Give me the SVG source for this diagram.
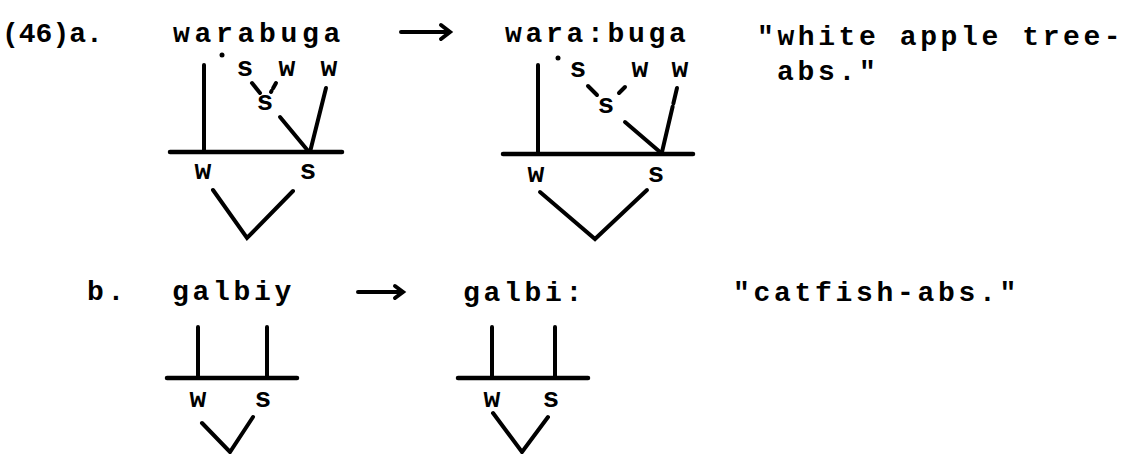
<svg xmlns="http://www.w3.org/2000/svg" width="1127" height="454" viewBox="0 0 1127 454">
<style>
.t{font-family:"Liberation Mono","DejaVu Sans Mono",monospace;font-size:28px;font-weight:bold;fill:#000;letter-spacing:3.7px}
.n{font-family:"Liberation Mono","DejaVu Sans Mono",monospace;font-size:28px;font-weight:bold;fill:#000;text-anchor:middle}
.l{stroke:#000;stroke-width:4;stroke-linecap:round;fill:none}
.h{stroke:#000;stroke-width:4.5;stroke-linecap:round;fill:none}
</style>
<rect width="1127" height="454" fill="#fff"/>
<g id="labels">
<text class="t" x="2" y="42" style="letter-spacing:0px">(46)a.</text>
<text class="t" x="173" y="42" style="letter-spacing:4.7px">warabuga</text>
<text class="t" x="505" y="42">wara:buga</text>
<text class="t" x="757" y="45" style="letter-spacing:3.6px">"white apple tree-</text>
<text class="t" x="777" y="80">abs."</text>
<text class="t" x="87" y="300">b.</text>
<text class="t" x="172" y="300">galbiy</text>
<text class="t" x="463" y="301">galbi:</text>
<text class="t" x="733" y="301">"catfish-abs."</text>
</g>
<g id="tree-a-left">
<circle cx="222" cy="55" r="2.5" fill="#000"/>
<text class="n" x="245" y="76">s</text>
<text class="n" x="287" y="76">w</text>
<text class="n" x="329" y="76">w</text>
<text class="n" x="265" y="110">s</text>
<text class="n" x="203" y="179">w</text>
<text class="n" x="308" y="179">s</text>
</g>
<g id="tree-a-right">
<circle cx="558" cy="58" r="2.5" fill="#000"/>
<text class="n" x="578" y="77">s</text>
<text class="n" x="640" y="77">w</text>
<text class="n" x="680" y="77">w</text>
<text class="n" x="606" y="113">s</text>
<text class="n" x="536" y="182">w</text>
<text class="n" x="656" y="182">s</text>
</g>
<g id="tree-b-left">
<text class="n" x="198" y="407">w</text>
<text class="n" x="263" y="407">s</text>
</g>
<g id="tree-b-right">
<text class="n" x="492" y="407">w</text>
<text class="n" x="551" y="407">s</text>
</g>
<g id="connectors">
<path class="l" d="M401 32 H449 M441 25 L450 32 L441 39"/>
<path class="l" d="M358 292 H402 M395 286 L403 292 L395 298"/>
<path class="l" d="M204 65 V152"/>
<path class="h" d="M170 152 H342"/>
<path class="l" d="M252 83 L260 93"/>
<path class="l" d="M276 83 L271 92" stroke-dasharray="6 3"/>
<path class="l" d="M280 117 L309 152"/>
<path class="l" d="M326 88 L310 152"/>
<path class="l" d="M213 190 L247 238 L293 191"/>
<path class="l" d="M538 65 V154"/>
<path class="h" d="M503 154 H693"/>
<path class="l" d="M588 86 L597 95"/>
<path class="l" d="M625 87 L619 93"/>
<path class="l" d="M625 122 L660 152"/>
<path class="l" d="M677 88 L662 152" stroke-dasharray="16 3 50"/>
<path class="l" d="M540 192 L595 239 L647 190"/>
<path class="l" d="M198 327 V377 M267 327 V377"/>
<path class="h" d="M167 378 H297"/>
<path class="l" d="M202 423 L230 452 L253 417"/>
<path class="l" d="M492 327 V377 M555 327 V377"/>
<path class="h" d="M458 378 H588"/>
<path class="l" d="M493 413 L522 452 L548 417"/>
</g>
</svg>
